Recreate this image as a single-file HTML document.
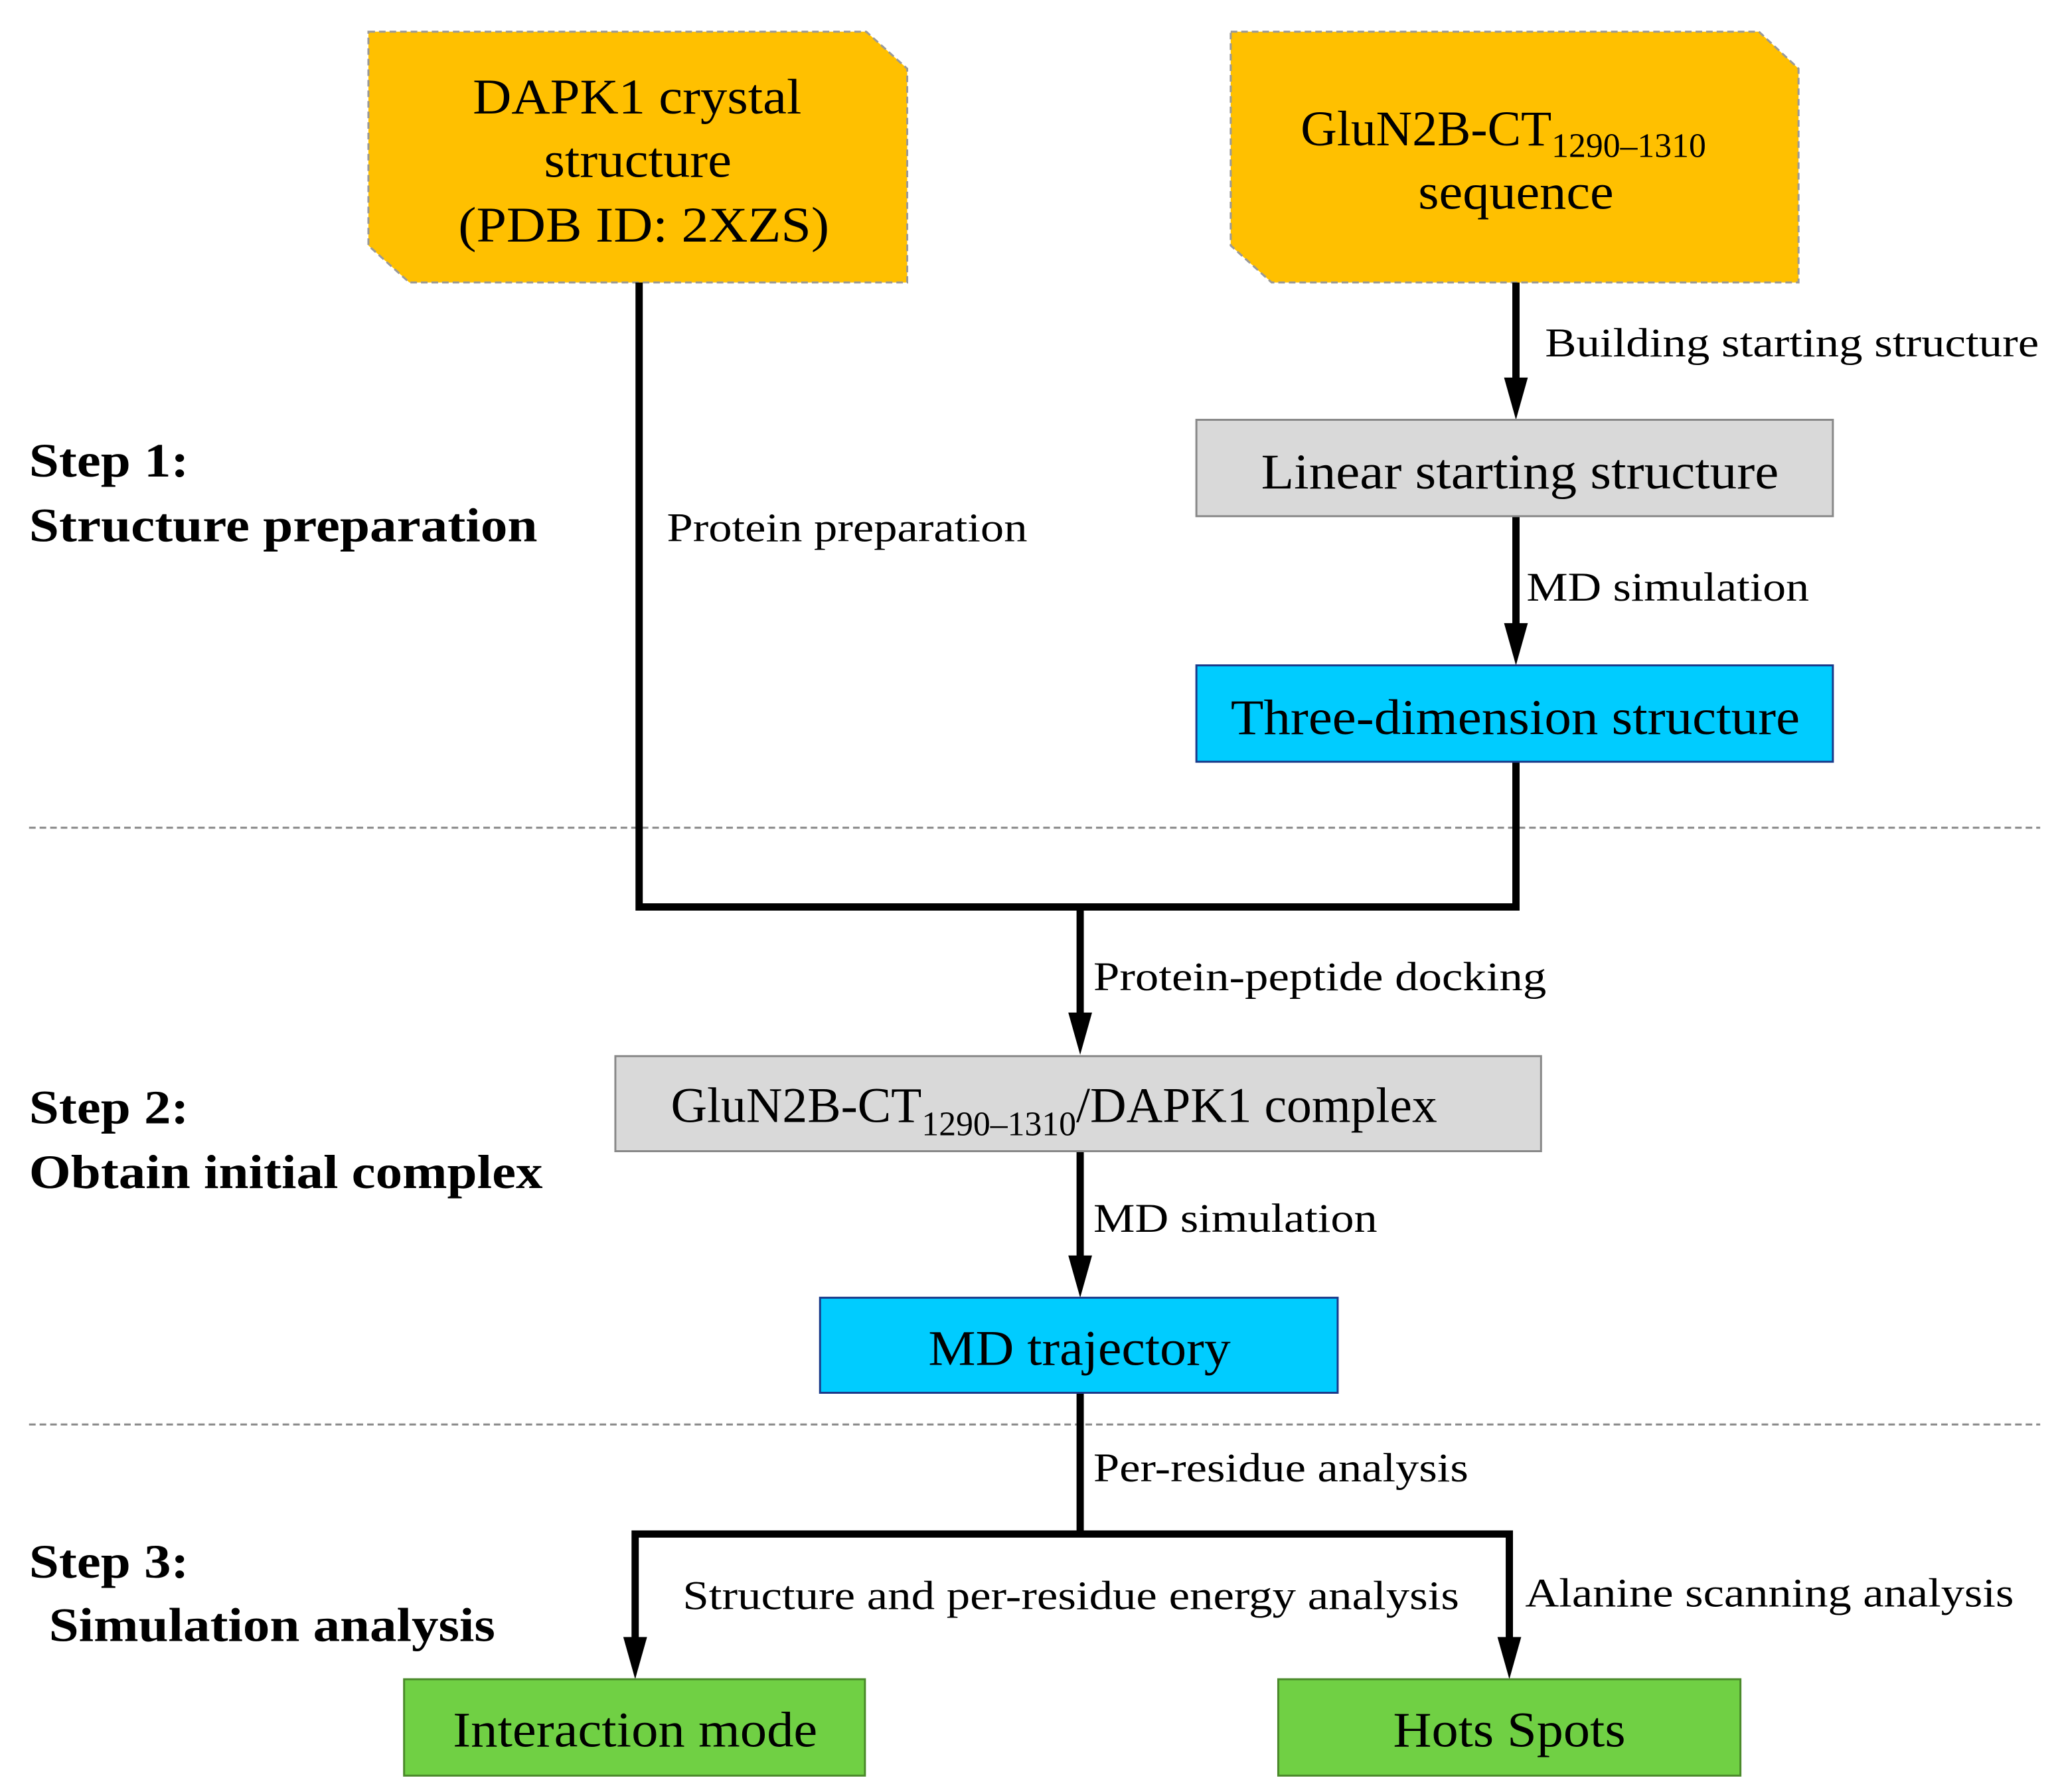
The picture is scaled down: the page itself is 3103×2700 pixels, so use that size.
<!DOCTYPE html>
<html><head><meta charset="utf-8"><style>html,body{margin:0;padding:0;background:#fff}svg{display:block}svg text{font-family:"Liberation Serif","Times New Roman",serif}</style></head>
<body>
<svg xmlns="http://www.w3.org/2000/svg" width="3103" height="2700" viewBox="0 0 1560 1357.4">
<line x1="22" y1="627" x2="1545" y2="627" stroke="#888" stroke-width="1.5" stroke-dasharray="5,3"/>
<line x1="22" y1="1079" x2="1545" y2="1079" stroke="#888" stroke-width="1.5" stroke-dasharray="5,3"/>

<polygon points="279,24 656,24 687,52 687,214 310,214 279,186" fill="#FFC000" stroke="#999" stroke-width="1.5" stroke-dasharray="5,3"/>
<polygon points="932,24 1332,24 1362,52 1362,214 963,214 932,186" fill="#FFC000" stroke="#999" stroke-width="1.5" stroke-dasharray="5,3"/>
<text x="358" y="86" font-size="38" textLength="249" lengthAdjust="spacingAndGlyphs">DAPK1 crystal</text>
<text x="412" y="134" font-size="38" textLength="142" lengthAdjust="spacingAndGlyphs">structure</text>
<text x="347" y="183" font-size="38" textLength="281" lengthAdjust="spacingAndGlyphs">(PDB ID: 2XZS)</text>
<text x="985" y="110" font-size="38">GluN2B-CT<tspan font-size="26" dy="9">1290–1310</tspan></text>
<text x="1074" y="158" font-size="38" textLength="148" lengthAdjust="spacingAndGlyphs">sequence</text>

<g stroke="#000" stroke-width="5.5" fill="none">
<polyline points="484,214 484,687 1148,687 1148,577"/>
<line x1="1148" y1="214" x2="1148" y2="290"/>
<line x1="1148" y1="391" x2="1148" y2="475"/>
<line x1="818" y1="687" x2="818" y2="770"/>
<line x1="818" y1="872" x2="818" y2="954"/>
<line x1="818" y1="1055" x2="818" y2="1162"/>
<polyline points="481,1243 481,1162 1143,1162 1143,1243"/>
</g>
<g fill="#000">
<polygon points="1139,286 1157,286 1148,318"/>
<polygon points="1139,472 1157,472 1148,504"/>
<polygon points="809,767 827,767 818,799"/>
<polygon points="809,951 827,951 818,983"/>
<polygon points="472,1240 490,1240 481,1272"/>
<polygon points="1134,1240 1152,1240 1143,1272"/>
</g>

<rect x="906" y="318" width="482" height="73" fill="#D9D9D9" stroke="#888" stroke-width="1.5"/>
<text x="955" y="370" font-size="38" textLength="392" lengthAdjust="spacingAndGlyphs">Linear starting structure</text>
<rect x="906" y="504" width="482" height="73" fill="#00CCFF" stroke="#1a3a8a" stroke-width="1.5"/>
<text x="932" y="556" font-size="38" textLength="431" lengthAdjust="spacingAndGlyphs">Three-dimension structure</text>
<rect x="466" y="800" width="701" height="72" fill="#D9D9D9" stroke="#888" stroke-width="1.5"/>
<text x="508" y="850" font-size="38">GluN2B-CT<tspan font-size="26" dy="10">1290–1310</tspan><tspan dy="-10">/DAPK1 complex</tspan></text>
<rect x="621" y="983" width="392" height="72" fill="#00CCFF" stroke="#1a3a8a" stroke-width="1.5"/>
<text x="703" y="1034" font-size="38" textLength="229" lengthAdjust="spacingAndGlyphs">MD trajectory</text>
<rect x="306" y="1272" width="349" height="73" fill="#70D044" stroke="#4a8a2a" stroke-width="1.5"/>
<text x="343" y="1323" font-size="38" textLength="276" lengthAdjust="spacingAndGlyphs">Interaction mode</text>
<rect x="968" y="1272" width="350" height="73" fill="#70D044" stroke="#4a8a2a" stroke-width="1.5"/>
<text x="1055" y="1323" font-size="38" textLength="176" lengthAdjust="spacingAndGlyphs">Hots Spots</text>

<g font-size="31">
<text x="1170" y="270" textLength="374" lengthAdjust="spacingAndGlyphs">Building starting structure</text>
<text x="505" y="410" textLength="273" lengthAdjust="spacingAndGlyphs">Protein preparation</text>
<text x="1156" y="455" textLength="214" lengthAdjust="spacingAndGlyphs">MD simulation</text>
<text x="828" y="750" textLength="343" lengthAdjust="spacingAndGlyphs">Protein-peptide docking</text>
<text x="828" y="933" textLength="215" lengthAdjust="spacingAndGlyphs">MD simulation</text>
<text x="828" y="1122" textLength="284" lengthAdjust="spacingAndGlyphs">Per-residue analysis</text>
<text x="517" y="1219" textLength="588" lengthAdjust="spacingAndGlyphs">Structure and per-residue energy analysis</text>
<text x="1155" y="1217" textLength="370" lengthAdjust="spacingAndGlyphs">Alanine scanning analysis</text>
</g>
<g font-size="36" font-weight="bold">
<text x="22" y="361" textLength="121" lengthAdjust="spacingAndGlyphs">Step 1:</text>
<text x="22" y="410" textLength="385" lengthAdjust="spacingAndGlyphs">Structure preparation</text>
<text x="22" y="851" textLength="121" lengthAdjust="spacingAndGlyphs">Step 2:</text>
<text x="22" y="900" textLength="389" lengthAdjust="spacingAndGlyphs">Obtain initial complex</text>
<text x="22" y="1195" textLength="121" lengthAdjust="spacingAndGlyphs">Step 3:</text>
<text x="37" y="1243" textLength="338" lengthAdjust="spacingAndGlyphs">Simulation analysis</text>
</g>
</svg>
</body></html>
